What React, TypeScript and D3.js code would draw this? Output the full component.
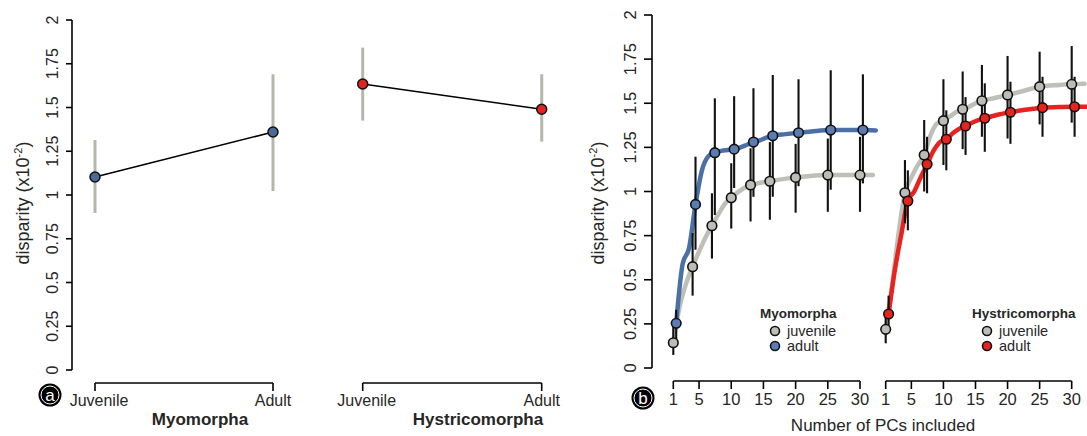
import React from "react";
import * as d3 from "d3";

// ---------- Data ----------
const stageLabels = ["Juvenile", "Adult"];
const yTicks = [0, 0.25, 0.5, 0.75, 1, 1.25, 1.5, 1.75, 2];
const pcTicks = [1, 5, 10, 15, 20, 25, 30];

// Panel (a)
const myoStageMean = [1.103, 1.36];
const myoStageLo = [0.897, 1.023];
const myoStageHi = [1.314, 1.69];
const hysStageMean = [1.634, 1.49];
const hysStageLo = [1.425, 1.305];
const hysStageHi = [1.842, 1.69];

// Panel (b) points
const pcPoints = [1, 4, 7, 10, 13, 16, 20, 25, 30];
const myoJuvVal = [0.143, 0.574, 0.806, 0.965, 1.037, 1.058, 1.08, 1.093, 1.093];
const myoJuvLo = [0.074, 0.41, 0.62, 0.79, 0.83, 0.84, 0.88, 0.885, 0.885];
const myoJuvHi = [0.25, 0.765, 0.99, 1.16, 1.245, 1.28, 1.27, 1.3, 1.31];
const myoAdVal = [0.253, 0.927, 1.22, 1.24, 1.28, 1.316, 1.333, 1.348, 1.348];
const myoAdLo = [0.15, 0.67, 0.867, 1.02, 0.97, 0.97, 1.03, 1.01, 1.046];
const myoAdHi = [0.33, 1.197, 1.528, 1.54, 1.585, 1.66, 1.636, 1.687, 1.664];
const hysJuvVal = [0.219, 0.993, 1.207, 1.401, 1.466, 1.514, 1.547, 1.594, 1.607];
const hysJuvLo = [0.14, 0.82, 1.0, 1.15, 1.24, 1.31, 1.3, 1.38, 1.39];
const hysJuvHi = [0.3, 1.178, 1.405, 1.636, 1.68, 1.717, 1.768, 1.792, 1.824];
const hysAdVal = [0.306, 0.946, 1.154, 1.296, 1.371, 1.415, 1.449, 1.475, 1.48];
const hysAdLo = [0.22, 0.78, 0.99, 1.12, 1.207, 1.225, 1.27, 1.31, 1.31];
const hysAdHi = [0.41, 1.12, 1.31, 1.46, 1.535, 1.613, 1.622, 1.65, 1.65];

// Panel (b) curves
const pcCurve = [1, 2, 3, 4, 5, 6, 7, 8, 9, 10, 11, 12, 13, 14, 15, 16, 18, 20, 22, 25, 28, 30, 32];
const myoJuvCurve = [0.143, 0.35, 0.48, 0.574, 0.66, 0.74, 0.806, 0.87, 0.93, 0.965, 0.995, 1.02, 1.037, 1.045, 1.052, 1.058, 1.07, 1.08, 1.087, 1.093, 1.093, 1.093, 1.093];
const myoAdCurve = [0.253, 0.59, 0.68, 0.927, 1.12, 1.2, 1.22, 1.23, 1.235, 1.24, 1.25, 1.265, 1.28, 1.29, 1.305, 1.316, 1.325, 1.333, 1.34, 1.348, 1.348, 1.348, 1.346];
const hysJuvCurve = [0.219, 0.47, 0.76, 0.993, 1.08, 1.15, 1.207, 1.32, 1.385, 1.401, 1.425, 1.45, 1.466, 1.48, 1.5, 1.514, 1.53, 1.547, 1.565, 1.594, 1.603, 1.607, 1.61];
const hysAdCurve = [0.306, 0.56, 0.76, 0.946, 1.0, 1.08, 1.154, 1.23, 1.28, 1.296, 1.33, 1.355, 1.371, 1.39, 1.405, 1.415, 1.435, 1.449, 1.462, 1.475, 1.479, 1.48, 1.48];

// ---------- Style ----------
const FONT = "'Liberation Sans', Arial, Helvetica, sans-serif";
const TEXT = "#262626";
const BLUE = "#5b7db3";
const BLUE_LINE = "#4a70a8";
const GREY = "#bcbcb8";
const GREY_LINE = "#bfbfba";
const RED = "#e8231f";
const BAR_GREY = "#b6b6ac";
const ADULT_DODGE = 0.45;

const yA = d3.scaleLinear().domain([0, 2]).range([370, 20]);
const yB = d3.scaleLinear().domain([0, 2]).range([368, 15]);
const xMyoA = d3.scalePoint<string>().domain(stageLabels).range([95, 273]);
const xHysA = d3.scalePoint<string>().domain(stageLabels).range([362.7, 541.7]);
const xMyoB = d3.scaleLinear().domain([1, 30]).range([673.3, 860]);
const xHysB = d3.scaleLinear().domain([1, 30]).range([885.7, 1071.7]);

function YAxis({ y, x, tickLen, labelX, fontSize }: any) {
  const [r0, r1] = y.range();
  return (
    <g>
      <line x1={x} x2={x} y1={r0} y2={r1} stroke="#000" strokeWidth={1.6} />
      {yTicks.map((t) => (
        <g key={t}>
          <line x1={x - tickLen} x2={x} y1={y(t)} y2={y(t)} stroke="#000" strokeWidth={1.6} />
          <text
            transform={`translate(${labelX},${y(t)}) rotate(-90)`}
            textAnchor="middle"
            fontSize={fontSize}
            fill={TEXT}
          >
            {String(t)}
          </text>
        </g>
      ))}
    </g>
  );
}

function YLabel({ x, y }: any) {
  return (
    <text transform={`translate(${x},${y}) rotate(-90)`} textAnchor="middle" fontSize={18} fill={TEXT}>
      disparity (x10
      <tspan dy={-7} fontSize={11}>
        -2
      </tspan>
      <tspan dy={7}>)</tspan>
    </text>
  );
}

function StagePanel({ x, mean, lo, hi, color, title, titleX }: any) {
  const xs = stageLabels.map((s) => x(s) as number);
  const line = d3.line<number>().x((_, i) => xs[i]).y((d) => yA(d));
  return (
    <g>
      {stageLabels.map((s, i) => (
        <line key={s} x1={xs[i]} x2={xs[i]} y1={yA(lo[i])} y2={yA(hi[i])} stroke={BAR_GREY} strokeWidth={3} />
      ))}
      <path d={line(mean) || ""} fill="none" stroke="#000" strokeWidth={1.6} />
      {stageLabels.map((s, i) => (
        <circle key={s} cx={xs[i]} cy={yA(mean[i])} r={5} fill={color} stroke="#111" strokeWidth={1.5} />
      ))}
      <line x1={xs[0]} x2={xs[1]} y1={383} y2={383} stroke="#000" strokeWidth={1.6} />
      {stageLabels.map((s, i) => (
        <g key={s}>
          <line x1={xs[i]} x2={xs[i]} y1={383} y2={391} stroke="#000" strokeWidth={1.6} />
          <text x={xs[i] + (i === 0 ? 4 : 0)} y={406} textAnchor="middle" fontSize={16} fill={TEXT}>
            {s}
          </text>
        </g>
      ))}
      <text x={titleX} y={425} textAnchor="middle" fontSize={17} fontWeight="bold" fill={TEXT}>
        {title}
      </text>
    </g>
  );
}

function PCAxis({ x }: any) {
  return (
    <g>
      <line x1={x(1)} x2={x(30)} y1={381} y2={381} stroke="#000" strokeWidth={1.6} />
      {pcTicks.map((t) => (
        <g key={t}>
          <line x1={x(t)} x2={x(t)} y1={381} y2={389} stroke="#000" strokeWidth={1.6} />
          <text x={x(t)} y={405} textAnchor="middle" fontSize={16.5} fill={TEXT}>
            {String(t)}
          </text>
        </g>
      ))}
    </g>
  );
}

function PCGroup({ x, juvVal, juvLo, juvHi, adVal, adLo, adHi, juvCurve, adCurve, adFill, adLine }: any) {
  const lineJ = d3
    .line<number>()
    .x((_, i) => x(pcCurve[i]))
    .y((d) => yB(d))
    .curve(d3.curveMonotoneX);
  const lineA = d3
    .line<number>()
    .x((_, i) => x(pcCurve[i] + ADULT_DODGE))
    .y((d) => yB(d))
    .curve(d3.curveMonotoneX);
  return (
    <g>
      <path d={lineJ(juvCurve) || ""} fill="none" stroke={GREY_LINE} strokeWidth={4.5} strokeLinecap="round" strokeLinejoin="round" />
      <path d={lineA(adCurve) || ""} fill="none" stroke={adLine} strokeWidth={4.5} strokeLinecap="round" strokeLinejoin="round" />
      {pcPoints.map((p, i) => (
        <g key={p}>
          <line x1={x(p)} x2={x(p)} y1={yB(juvLo[i])} y2={yB(juvHi[i])} stroke="#111" strokeWidth={2.1} />
          <line
            x1={x(p + ADULT_DODGE)}
            x2={x(p + ADULT_DODGE)}
            y1={yB(adLo[i])}
            y2={yB(adHi[i])}
            stroke="#111"
            strokeWidth={2.1}
          />
        </g>
      ))}
      {pcPoints.map((p, i) => (
        <circle key={"j" + p} cx={x(p)} cy={yB(juvVal[i])} r={4.8} fill={GREY} stroke="#111" strokeWidth={1.6} />
      ))}
      {pcPoints.map((p, i) => (
        <circle key={"a" + p} cx={x(p + ADULT_DODGE)} cy={yB(adVal[i])} r={4.8} fill={adFill} stroke="#111" strokeWidth={1.6} />
      ))}
    </g>
  );
}

function Legend({ x, title, adFill }: any) {
  return (
    <g>
      <text x={x} y={318} fontSize={13.5} fontWeight="bold" fill={TEXT}>
        {title}
      </text>
      <circle cx={x + 15} cy={331} r={4.5} fill={GREY} stroke="#111" strokeWidth={1.6} />
      <text x={x + 27} y={336} fontSize={14.5} fill={TEXT}>
        juvenile
      </text>
      <circle cx={x + 15} cy={346} r={4.5} fill={adFill} stroke="#111" strokeWidth={1.6} />
      <text x={x + 27} y={351} fontSize={14.5} fill={TEXT}>
        adult
      </text>
    </g>
  );
}

function Badge({ cx, cy, letter }: any) {
  return (
    <g>
      <circle cx={cx} cy={cy} r={11.5} fill="#000" />
      <circle cx={cx} cy={cy} r={9} fill="none" stroke="#fff" strokeWidth={1} />
      <text x={cx} y={cy + 6} textAnchor="middle" fontSize={17} fill="#fff">
        {letter}
      </text>
    </g>
  );
}

export default function App() {
  return (
    <svg
      width={1087}
      height={436}
      viewBox="0 0 1087 436"
      style={{ position: "absolute", left: 0, top: 0, background: "#fff" }}
      fontFamily={FONT}
    >
      <rect width={1087} height={436} fill="#fff" />
      {/* Panel (a) */}
      <YAxis y={yA} x={72} tickLen={6} labelX={58} fontSize={16} />
      <YLabel x={29} y={203} />
      <StagePanel x={xMyoA} mean={myoStageMean} lo={myoStageLo} hi={myoStageHi} color="#4c6a98" title="Myomorpha" titleX={200} />
      <StagePanel x={xHysA} mean={hysStageMean} lo={hysStageLo} hi={hysStageHi} color="#e02424" title="Hystricomorpha" titleX={478} />
      <Badge cx={50} cy={395} letter="a" />

      {/* Panel (b) */}
      <YAxis y={yB} x={652} tickLen={8} labelX={636} fontSize={16.5} />
      <YLabel x={604} y={203} />
      <PCGroup
        x={xMyoB}
        juvVal={myoJuvVal}
        juvLo={myoJuvLo}
        juvHi={myoJuvHi}
        adVal={myoAdVal}
        adLo={myoAdLo}
        adHi={myoAdHi}
        juvCurve={myoJuvCurve}
        adCurve={myoAdCurve}
        adFill={BLUE}
        adLine={BLUE_LINE}
      />
      <PCGroup
        x={xHysB}
        juvVal={hysJuvVal}
        juvLo={hysJuvLo}
        juvHi={hysJuvHi}
        adVal={hysAdVal}
        adLo={hysAdLo}
        adHi={hysAdHi}
        juvCurve={hysJuvCurve}
        adCurve={hysAdCurve}
        adFill={RED}
        adLine={RED}
      />
      <PCAxis x={xMyoB} />
      <PCAxis x={xHysB} />
      <Legend x={760} title="Myomorpha" adFill={BLUE} />
      <Legend x={972} title="Hystricomorpha" adFill={RED} />
      <text x={883} y={431} textAnchor="middle" fontSize={17} fill={TEXT}>
        Number of PCs included
      </text>
      <Badge cx={643} cy={398} letter="b" />
    </svg>
  );
}
